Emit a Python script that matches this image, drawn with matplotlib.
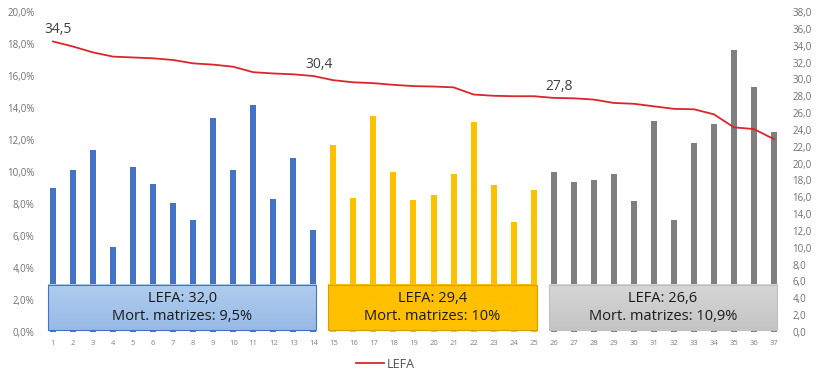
import numpy as np
import matplotlib.pyplot as plt
from matplotlib.patches import Rectangle
from matplotlib.colors import LinearSegmentedColormap

plt.rcParams['font.family'] = ['Open Sans', 'DejaVu Sans']

# farm index (1..37)
farms = list(range(1, 38))

# sow mortality per farm (%), left axis
mort = [9.0, 10.1, 11.4, 5.3, 10.3, 9.25, 8.05, 7.0, 13.4, 10.1, 14.2, 8.3, 10.9, 6.4,
        11.7, 8.4, 13.5, 10.0, 8.25, 8.55, 9.9, 13.1, 9.2, 6.9, 8.9,
        10.0, 9.4, 9.5, 9.9, 8.2, 13.2, 7.0, 11.8, 13.0, 17.6, 15.3, 12.5]

# LEFA per farm, right axis
lefa = [34.5, 33.9, 33.2, 32.7, 32.6, 32.5, 32.3, 31.9, 31.75, 31.5, 30.85, 30.7, 30.6, 30.4,
        29.9, 29.65, 29.55, 29.35, 29.2, 29.15, 29.05, 28.2, 28.05, 28.0, 28.0,
        27.8, 27.75, 27.6, 27.2, 27.1, 26.8, 26.5, 26.45, 25.85, 24.3, 24.1, 22.9]

# groups: (first farm, last farm, bar colour, summary text)
groups = [
    (1, 14, '#4472C4', 'LEFA: 32,0\nMort. matrizes: 9,5%'),
    (15, 25, '#FFC000', 'LEFA: 29,4\nMort. matrizes: 10%'),
    (26, 37, '#7F7F7F', 'LEFA: 26,6\nMort. matrizes: 10,9%'),
]
labelled = [1, 14, 26]

fig = plt.figure(figsize=(8.2, 3.82), dpi=100)
ax = fig.add_axes([0.0524, 0.1309, 0.9037, 0.8377])
ax2 = ax.twinx()

colors = []
for first, last, col, _ in groups:
    colors += [col] * (last - first + 1)
ax.bar(farms, mort, width=0.3, color=colors, zorder=2)

ax.set_xlim(0.5, 37.5)
ax.set_ylim(0, 20)
ax.set_yticks(np.arange(0, 20.1, 2))
ax.set_yticklabels([f'{v:.1f}%'.replace('.', ',') for v in np.arange(0, 20.1, 2)])
ax.set_xticks(farms)
ax.tick_params(axis='x', labelsize=5.5, colors='#808080', length=0, pad=6)
ax.tick_params(axis='y', labelsize=7, colors='#707070', length=0, pad=6)

ax2.set_ylim(0, 38)
ax2.set_yticks(np.arange(0, 38.1, 2))
ax2.set_yticklabels([f'{v:.1f}'.replace('.', ',') for v in np.arange(0, 38.1, 2)])
ax2.tick_params(axis='y', labelsize=7, colors='#707070', length=0, pad=6)

line, = ax2.plot(farms, lefa, color='#D9262B', lw=1.3, zorder=3, label='LEFA')
for f in labelled:
    ax2.annotate(f'{lefa[f - 1]:.1f}'.replace('.', ','), (f, lefa[f - 1]),
                 xytext=(4, 3), textcoords='offset points', ha='center', va='bottom',
                 fontsize=10, color='#404040')

for a in (ax, ax2):
    for s in a.spines.values():
        s.set_visible(False)
ax.axhline(0, color='#E0E0E0', lw=0.8, zorder=1)

# summary boxes over the bar bases
fills = [('#B0CDEE', '#98BAE6', '#4472C4'),
         ('#FFC000', '#FFC000', '#D4A000'),
         ('#D6D6D6', '#C4C4C4', '#C0C0C0')]
for (first, last, col, txt), (c_top, c_bot, edge) in zip(groups, fills):
    x0, x1 = first - 0.25, last + 0.15
    y0, y1 = 0.12, 2.94
    cmap = LinearSegmentedColormap.from_list('g', [c_bot, c_top])
    grad = np.linspace(0, 1, 50).reshape(-1, 1)
    ax.imshow(grad, extent=(x0, x1, y0, y1), origin='lower', cmap=cmap,
              aspect='auto', zorder=4)
    ax.add_patch(Rectangle((x0, y0), x1 - x0, y1 - y0, fill=False,
                           edgecolor=edge, lw=0.8, zorder=5))
    ax.text((x0 + x1) / 2, (y0 + y1) / 2, txt, ha='center', va='center',
            fontsize=10.5, color='#1a1a1a', linespacing=1.35, zorder=6)
ax.set_xlim(0.5, 37.5)
ax.set_ylim(0, 20)

fig.legend(handles=[line], loc='lower center', bbox_to_anchor=(0.47, 0.0),
           frameon=False, fontsize=9, labelcolor='#505050', handlelength=2.2,
           handletextpad=0.2)

fig.savefig('out.png', dpi=100)
